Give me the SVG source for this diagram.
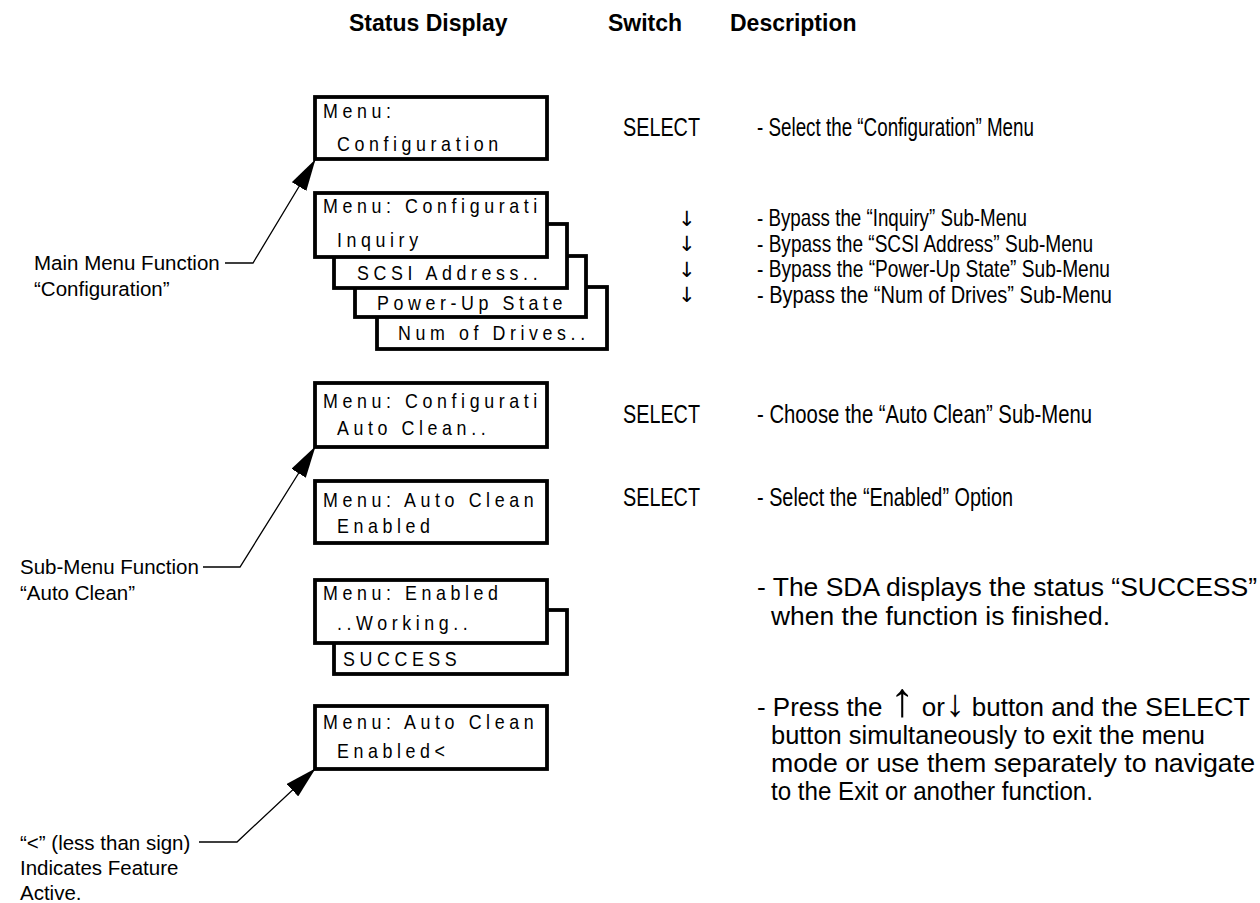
<svg xmlns="http://www.w3.org/2000/svg" width="1260" height="903" viewBox="0 0 1260 903">
<defs>
<style>
.bg{fill:#fff}
.box{fill:#fff;stroke:#000;stroke-width:3.8}
.lcd{font-family:"Liberation Sans",Arial,sans-serif;font-size:21px;letter-spacing:5.4px;fill:#000}
.hdr{font-family:"Liberation Sans",Arial,sans-serif;font-size:23px;font-weight:bold;fill:#000}
.lbl{font-family:"Liberation Sans",Arial,sans-serif;font-size:20.5px;fill:#000}
.dsc{font-family:"Liberation Sans",Arial,sans-serif;font-size:25px;fill:#000}
.byp{font-family:"Liberation Sans",Arial,sans-serif;font-size:24px;fill:#000}
.arw{font-family:"DejaVu Sans",sans-serif;font-size:21px;fill:#000}
.lead{fill:none;stroke:#000;stroke-width:1.3}
</style>
<marker id="ah" markerUnits="userSpaceOnUse" markerWidth="32" markerHeight="17" refX="31" refY="8.5" orient="auto">
<path d="M0,0 L32,8.5 L0,17 Z" fill="#000"/>
</marker>
</defs>
<rect class="bg" x="0" y="0" width="1260" height="903"/>

<g id="header">
<text class="hdr" x="349" y="31">Status Display</text>
<text class="hdr" x="608" y="31">Switch</text>
<text class="hdr" x="730" y="31">Description</text>
</g>

<g id="node-config">
<rect class="box" x="315" y="97" width="232" height="62"/>
<text class="lcd" transform="translate(323,118) scale(0.85,1)">Menu:</text>
<text class="lcd" transform="translate(337,151) scale(0.85,1)">Configuration</text>
</g>

<g id="node-submenus">
<rect class="box" x="377" y="287" width="230" height="62"/>
<text class="lcd" transform="translate(398,340) scale(0.85,1)">Num of Drives..</text>
<rect class="box" x="355" y="256" width="231" height="61"/>
<text class="lcd" transform="translate(377,310) scale(0.85,1)">Power-Up State</text>
<rect class="box" x="334" y="224" width="233" height="64"/>
<text class="lcd" transform="translate(357,280) scale(0.85,1)">SCSI Address..</text>
<rect class="box" x="315" y="193" width="232" height="64"/>
<text class="lcd" transform="translate(323,213) scale(0.85,1)">Menu: Configurati</text>
<text class="lcd" transform="translate(337,247) scale(0.85,1)">Inquiry</text>
</g>

<g id="node-autoclean">
<rect class="box" x="315" y="383" width="232" height="64"/>
<text class="lcd" transform="translate(323,408) scale(0.85,1)">Menu: Configurati</text>
<text class="lcd" transform="translate(337,435) scale(0.85,1)">Auto Clean..</text>
</g>

<g id="node-enabled">
<rect class="box" x="315" y="481" width="232" height="62"/>
<text class="lcd" transform="translate(323,507) scale(0.85,1)">Menu: Auto Clean</text>
<text class="lcd" transform="translate(337,533) scale(0.85,1)">Enabled</text>
</g>

<g id="node-working">
<rect class="box" x="334" y="610" width="233" height="64"/>
<text class="lcd" transform="translate(343,666) scale(0.85,1)">SUCCESS</text>
<rect class="box" x="315" y="580" width="232" height="63"/>
<text class="lcd" transform="translate(323,600) scale(0.85,1)">Menu: Enabled</text>
<text class="lcd" transform="translate(337,630) scale(0.85,1)">..Working..</text>
</g>

<g id="node-active">
<rect class="box" x="315" y="706" width="232" height="63"/>
<text class="lcd" transform="translate(323,729) scale(0.85,1)">Menu: Auto Clean</text>
<text class="lcd" transform="translate(337,758) scale(0.85,1)">Enabled&lt;</text>
</g>

<g id="labels">
<text class="lbl" x="34" y="270">Main Menu Function</text>
<text class="lbl" x="34" y="296">“Configuration”</text>
<text class="lbl" x="20" y="574">Sub-Menu Function</text>
<text class="lbl" x="20" y="600">“Auto Clean”</text>
<text class="lbl" x="20" y="850">“&lt;” (less than sign)</text>
<text class="lbl" x="20" y="875">Indicates Feature</text>
<text class="lbl" x="20" y="900">Active.</text>
</g>

<g id="connectors">
<polyline class="lead" points="225,263 253,263 315,160" marker-end="url(#ah)"/>
<polyline class="lead" points="203,567 240,567 315,447" marker-end="url(#ah)"/>
<polyline class="lead" points="199,842 237,842 315,769" marker-end="url(#ah)"/>
</g>

<g id="descriptions">
<text class="dsc" x="623" y="136" textLength="77" lengthAdjust="spacingAndGlyphs">SELECT</text>
<text class="dsc" x="757" y="136" textLength="277" lengthAdjust="spacingAndGlyphs">- Select the “Configuration” Menu</text>

<text class="arw" x="678" y="226">↓</text>
<text class="arw" x="678" y="251">↓</text>
<text class="arw" x="678" y="277">↓</text>
<text class="arw" x="678" y="302">↓</text>
<text class="byp" x="757" y="226" textLength="270" lengthAdjust="spacingAndGlyphs">- Bypass the “Inquiry” Sub-Menu</text>
<text class="byp" x="757" y="252" textLength="336" lengthAdjust="spacingAndGlyphs">- Bypass the “SCSI Address” Sub-Menu</text>
<text class="byp" x="757" y="277" textLength="353" lengthAdjust="spacingAndGlyphs">- Bypass the “Power-Up State” Sub-Menu</text>
<text class="byp" x="757" y="303" textLength="355" lengthAdjust="spacingAndGlyphs">- Bypass the “Num of Drives” Sub-Menu</text>

<text class="dsc" x="623" y="423" textLength="77" lengthAdjust="spacingAndGlyphs">SELECT</text>
<text class="dsc" x="757" y="423" textLength="335" lengthAdjust="spacingAndGlyphs">- Choose the “Auto Clean” Sub-Menu</text>

<text class="dsc" x="623" y="506" textLength="77" lengthAdjust="spacingAndGlyphs">SELECT</text>
<text class="dsc" x="757" y="506" textLength="256" lengthAdjust="spacingAndGlyphs">- Select the “Enabled” Option</text>

<text class="dsc" x="757" y="596" textLength="500" lengthAdjust="spacingAndGlyphs">- The SDA displays the status “SUCCESS”</text>
<text class="dsc" x="771" y="625" textLength="339" lengthAdjust="spacingAndGlyphs">when the function is finished.</text>

<text class="dsc" x="757" y="716" textLength="493" lengthAdjust="spacingAndGlyphs">- Press the <tspan font-size="48">↑</tspan> or<tspan font-size="38">↓</tspan> button and the <tspan font-size="26">SELECT</tspan></text>
<text class="dsc" x="771" y="744" textLength="434" lengthAdjust="spacingAndGlyphs">button simultaneously to exit the menu</text>
<text class="dsc" x="771" y="772" textLength="484" lengthAdjust="spacingAndGlyphs">mode or use them separately to navigate</text>
<text class="dsc" x="771" y="800" textLength="322" lengthAdjust="spacingAndGlyphs">to the Exit or another function.</text>
</g>
</svg>
